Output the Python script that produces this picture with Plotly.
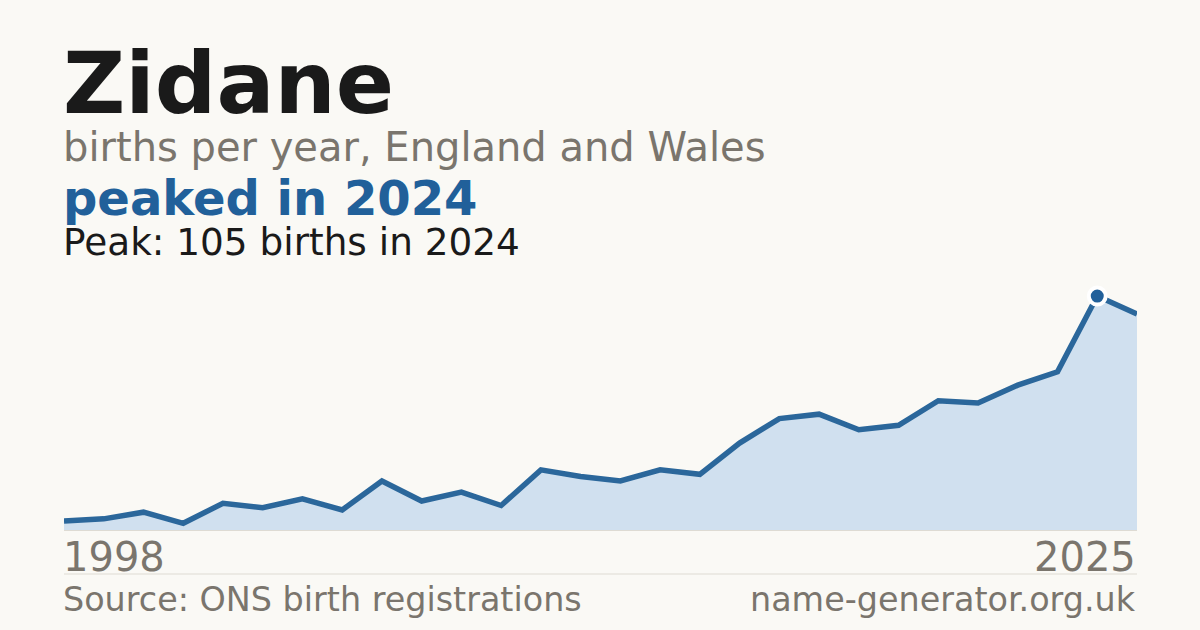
import plotly.graph_objects as go

# births per year for the name, England and Wales
years = list(range(1998, 2026))
births = [4, 5, 8, 3, 12, 10, 14, 9, 22, 13,
          17, 11, 27, 24, 22, 27, 25, 39, 50, 52,
          45, 47, 58, 57, 65, 71, 105, 97]

peak_year = 2024
peak_births = 105

BG = "#faf9f5"
BLUE = "#21609a"
LINE = "#2b679b"
FILL = "#d0e0ef"
GREY = "#7a756d"
DARK = "#1a1a1a"
FONT = "DejaVu Sans"

# plot area runs from y=270 to y=530 px
def py(pix):
    return (530 - pix) / 260


fig = go.Figure()

fig.add_trace(go.Scatter(
    x=years, y=births, mode="lines",
    line=dict(color=LINE, width=5.5),
    fill="tozeroy", fillcolor=FILL,
    hoverinfo="skip",
))

fig.add_trace(go.Scatter(
    x=[peak_year], y=[peak_births], mode="markers",
    marker=dict(size=17, color=BLUE, line=dict(color="white", width=4)),
    hoverinfo="skip",
))

notes = [
    dict(text="<b>Zidane</b>", size=86, color=DARK, y=134),
    dict(text="births per year, England and Wales", size=40, color=GREY, y=171),
    dict(text="<b>peaked in 2024</b>", size=48, color=BLUE, y=227),
    dict(text="Peak: 105 births in 2024", size=37.4, color=DARK, y=265),
]
for n in notes:
    fig.add_annotation(
        text=n["text"], xref="paper", yref="paper", x=0, y=py(n["y"]),
        xanchor="left", yanchor="bottom", showarrow=False, borderpad=0, xshift=-2,
        font=dict(family=FONT, size=n["size"], color=n["color"]),
    )

# first / last year labels
fig.add_annotation(text=str(years[0]), xref="x", yref="paper", x=years[0], y=py(581),
                   xanchor="left", yanchor="bottom", showarrow=False, borderpad=0, xshift=-2,
                   font=dict(family=FONT, size=40, color=GREY))
fig.add_annotation(text=str(years[-1]), xref="x", yref="paper", x=years[-1], y=py(581),
                   xanchor="right", yanchor="bottom", showarrow=False, borderpad=0,
                   font=dict(family=FONT, size=40, color=GREY))

# footer
fig.add_annotation(text="Source: ONS birth registrations", xref="paper", yref="paper",
                   x=0, y=py(620), xanchor="left", yanchor="bottom", showarrow=False,
                   borderpad=0, xshift=-2, font=dict(family=FONT, size=33.4, color=GREY))
fig.add_annotation(text="name-generator.org.uk", xref="paper", yref="paper",
                   x=1, y=py(620), xanchor="right", yanchor="bottom", showarrow=False,
                   borderpad=0, font=dict(family=FONT, size=33.4, color=GREY))

fig.add_shape(type="line", xref="paper", yref="paper", x0=0, x1=1, y0=py(574), y1=py(574),
              line=dict(color="#dedbd3", width=1))

fig.update_layout(
    width=1200, height=630,
    margin=dict(l=64, r=63, t=270, b=100),
    paper_bgcolor=BG, plot_bgcolor=BG,
    showlegend=False,
    xaxis=dict(range=[1998, 2025], visible=True, showgrid=False, zeroline=False,
               showticklabels=False, ticks="", showline=True, linecolor="#dedbd3", linewidth=1),
    yaxis=dict(range=[0, 116.7], visible=False),
)

# drop the browser's default body margin so the chart sits at 0,0
fig.write_html("out.html", config={"displayModeBar": False},
               post_script="document.body.style.margin='0';document.body.style.background='" + BG + "';")
